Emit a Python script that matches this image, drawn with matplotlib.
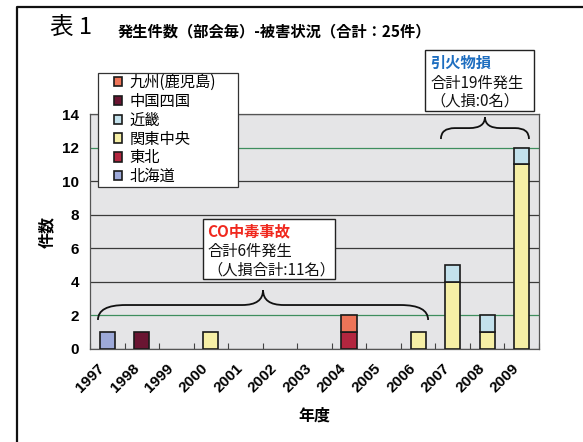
import matplotlib
matplotlib.use("Agg")
import matplotlib.pyplot as plt
import numpy as np
from matplotlib.patches import Rectangle, PathPatch
from matplotlib.path import Path
from matplotlib.lines import Line2D

plt.rcParams['font.family'] = ['Noto Sans CJK JP', 'DejaVu Sans']

years = ['1997', '1998', '1999', '2000', '2001', '2002', '2003',
         '2004', '2005', '2006', '2007', '2008', '2009']
# stacking order bottom -> top
series_names = ['北海道', '東北', '関東中央', '近畿', '中国四国', '九州(鹿児島)']
hokkaido  = [1, 0, 0, 0, 0, 0, 0, 0, 0, 0, 0, 0, 0]
tohoku    = [0, 0, 0, 0, 0, 0, 0, 1, 0, 0, 0, 0, 0]
kanto     = [0, 0, 0, 1, 0, 0, 0, 0, 0, 1, 4, 1, 11]
kinki     = [0, 0, 0, 0, 0, 0, 0, 0, 0, 0, 1, 1, 1]
chugoku   = [0, 1, 0, 0, 0, 0, 0, 0, 0, 0, 0, 0, 0]
kyushu    = [0, 0, 0, 0, 0, 0, 0, 1, 0, 0, 0, 0, 0]
series_vals = [hokkaido, tohoku, kanto, kinki, chugoku, kyushu]
colors = ['#9DA9D9', '#B3263F', '#F6EFA6', '#C3E1EC', '#6A1532', '#EE7458']
yticks = [0, 2, 4, 6, 8, 10, 12, 14]

W, H = 583, 442
fig = plt.figure(figsize=(W / 100, H / 100), dpi=100)
fig.patch.set_facecolor('white')

def fx(px):
    return px / W

def fy(py):
    return 1 - py / H

ax = fig.add_axes([fx(90), fy(349), fx(539) - fx(90), fy(114) - fy(349)])
ax.set_facecolor('#E5E5E7')

x = np.arange(len(years))
bottom = np.zeros(len(years))
handles = []
for name, vals, c in zip(series_names, series_vals, colors):
    v = np.array(vals, dtype=float)
    m = v > 0
    bars = ax.bar(x[m], v[m], width=0.44, bottom=bottom[m], color=c,
                  edgecolor='#1A1A1A', linewidth=1.2, label=name, zorder=3)
    bottom += v
    handles.append(bars)

ax.set_xlim(-0.5, len(years) - 0.5)
ax.set_ylim(0, 14)
ax.set_yticks(yticks)
ax.set_yticklabels([str(t) for t in yticks], fontsize=11,
                   family=['Liberation Sans'], fontweight='bold')
ax.tick_params(axis='y', length=0, pad=8)
ax.set_xticks(x)
ax.set_xticklabels(years, rotation=45, ha='right', va='top', fontsize=11,
                   family=['Liberation Sans'], fontweight='bold')
ax.tick_params(axis='x', length=0, pad=9)
ax.set_xticks(np.arange(-0.5, len(years)), minor=True)
ax.tick_params(axis='x', which='minor', direction='in', length=4,
               color='#444444', width=0.8)

ax.yaxis.grid(True, color='#3A3A3A', linewidth=0.9, zorder=1)
for gl, t in zip(ax.get_ygridlines(), yticks):
    if t in (2, 12):
        gl.set_color('#3E8E5E')
for s in ax.spines.values():
    s.set_color('#555555')
    s.set_linewidth(0.9)

ax.set_ylabel('件数', fontsize=11.5, fontweight='bold', labelpad=5)
ax.set_xlabel('年度', fontsize=11.5, fontweight='bold', labelpad=9)

# legend (reverse order like Excel), frame drawn separately
fig.add_artist(Rectangle((fx(98), fy(187)), fx(238) - fx(98), fy(73) - fy(187),
                         transform=fig.transFigure, facecolor='white',
                         edgecolor='#333333', lw=0.9, zorder=5))
leg = fig.legend(handles[::-1], series_names[::-1], loc='upper left',
                 bbox_to_anchor=(fx(114), fy(74)), bbox_transform=fig.transFigure,
                 borderaxespad=0, borderpad=0, fontsize=11, frameon=False,
                 handlelength=0.55, handleheight=0.55, handletextpad=0.45,
                 labelspacing=0.12)
leg.set_zorder(10)

# titles
fig.text(fx(50), fy(28), '表 1', fontsize=17, va='center', ha='left')
fig.text(fx(118), fy(31), '発生件数（部会毎）-被害状況（合計：25件）', fontsize=11,
         fontweight='bold', va='center', ha='left')

# frame
fig.add_artist(Line2D([fx(17), fx(17), fx(583)], [fy(442), fy(7), fy(7)],
                      transform=fig.transFigure, color='#111111', lw=1.6))

# annotation boxes
def box(x0, y0, x1, y1, lines, xt, ys, colors_, weights):
    fig.add_artist(Rectangle((fx(x0), fy(y1)), fx(x1) - fx(x0), fy(y0) - fy(y1),
                             transform=fig.transFigure, facecolor='white',
                             edgecolor='#222222', lw=1.0, zorder=5))
    for t, yy, c, w in zip(lines, ys, colors_, weights):
        fig.text(fx(xt), fy(yy), t, fontsize=11, color=c, fontweight=w,
                 va='center', ha='left', zorder=6)

box(203, 219, 335, 279, ['CO中毒事故', '合計6件発生', '（人損合計:11名）'],
    207, [231, 251, 270], ['#F0281E', '#111111', '#111111'], ['bold', 'normal', 'normal'])
box(425, 50, 534, 111, ['引火物損', '合計19件発生', '（人損:0名）'],
    430, [63, 83, 101], ['#1E6EC0', '#111111', '#111111'], ['bold', 'normal', 'normal'])

# braces (in data coordinates)
def brace(xl, xr, y_end, y_mid, y_tip, r, rt):
    xc = (xl + xr) / 2
    verts = [(xl, y_end), (xl, y_mid), (xl + r, y_mid),
             (xc - rt, y_mid),
             (xc, y_mid), (xc, y_tip),
             (xc, y_mid), (xc + rt, y_mid),
             (xr - r, y_mid),
             (xr, y_mid), (xr, y_end)]
    codes = [Path.MOVETO, Path.CURVE3, Path.CURVE3,
             Path.LINETO,
             Path.CURVE3, Path.CURVE3,
             Path.CURVE3, Path.CURVE3,
             Path.LINETO,
             Path.CURVE3, Path.CURVE3]
    p = PathPatch(Path(verts, codes), facecolor='none', edgecolor='#111111',
                  lw=1.3, clip_on=False, zorder=6)
    ax.add_patch(p)

brace(-0.27, 9.29, 1.73, 2.62, 3.51, 0.8, 0.6)
brace(9.66, 12.21, 12.51, 13.16, 13.82, 0.4, 0.45)

fig.savefig('out.png', dpi=100, facecolor='white')
